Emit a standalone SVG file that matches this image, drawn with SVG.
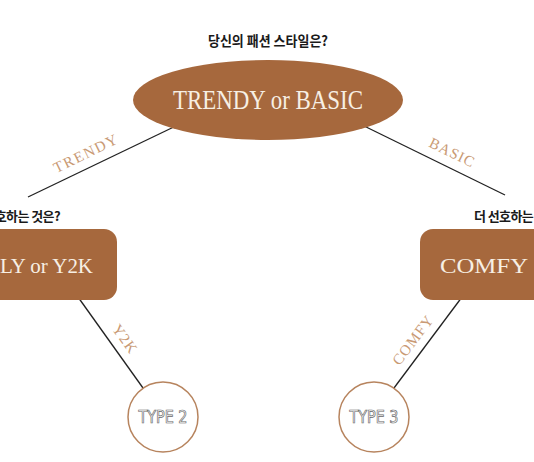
<svg xmlns="http://www.w3.org/2000/svg" width="534" height="462" viewBox="0 0 534 462">
<style>
.q{font-family:"Noto Sans CJK KR","Noto Sans",sans-serif;font-weight:700;fill:#1a1a1a}
.big{font-family:"Liberation Serif","DejaVu Serif",serif;fill:#f7efe4}
.lab{font-family:"Liberation Serif","DejaVu Serif",serif;font-size:15px;fill:#c99a74;letter-spacing:1px}
.ln{stroke:#222;stroke-width:1.3;fill:none}
.node{fill:#a6683d}
.circ{fill:#fff;stroke:#b7845e;stroke-width:1.5}
.type{font-family:"DejaVu Sans Condensed","Liberation Sans",sans-serif;font-size:18px;fill:#fff;stroke:#666;stroke-width:0.7}
</style>
<rect width="534" height="462" fill="#fff"/>
<g id="connectors">
<line class="ln" x1="28" y1="197" x2="180" y2="124"/>
<line class="ln" x1="360" y1="124" x2="505" y2="195"/>
<line class="ln" x1="78" y1="297" x2="143" y2="388"/>
<line class="ln" x1="462" y1="297" x2="394" y2="388"/>
<text class="lab" transform="translate(88,158) rotate(-26)" text-anchor="middle" textLength="70">TRENDY</text>
<text class="lab" transform="translate(450,157) rotate(26)" text-anchor="middle">BASIC</text>
<text class="lab" transform="translate(121,342) rotate(54)" text-anchor="middle">Y2K</text>
<text class="lab" transform="translate(417,343) rotate(-53)" text-anchor="middle">COMFY</text>
</g>
<g id="title">
<text class="q" x="268" y="46" font-size="14" text-anchor="middle" textLength="120" lengthAdjust="spacingAndGlyphs">당신의 패션 스타일은?</text>
</g>
<g id="root">
<ellipse class="node" cx="268" cy="100" rx="135" ry="40"/>
<text class="big" x="268" y="109" font-size="27" text-anchor="middle" textLength="190" lengthAdjust="spacingAndGlyphs">TRENDY or BASIC</text>
</g>
<g id="left">
<text class="q" x="60" y="221" font-size="13" letter-spacing="-0.6" text-anchor="end">더 선호하는 것은?</text>
<rect class="node" x="-20" y="229" width="137" height="71" rx="13"/>
<text class="big" x="0" y="273" font-size="22" textLength="93" lengthAdjust="spacingAndGlyphs">LY or Y2K</text>
</g>
<g id="right">
<text class="q" x="474" y="221" font-size="13" letter-spacing="-0.6">더 선호하는 것은?</text>
<rect class="node" x="420" y="229" width="140" height="71" rx="13"/>
<text class="big" x="440" y="273" font-size="22" textLength="88" lengthAdjust="spacingAndGlyphs">COMFY</text>
</g>
<g id="type2">
<circle class="circ" cx="163" cy="417" r="35"/>
<text class="type" x="163" y="423" text-anchor="middle" textLength="49" lengthAdjust="spacingAndGlyphs">TYPE 2</text>
</g>
<g id="type3">
<circle class="circ" cx="374" cy="417" r="35"/>
<text class="type" x="374" y="423" text-anchor="middle" textLength="49" lengthAdjust="spacingAndGlyphs">TYPE 3</text>
</g>
</svg>
